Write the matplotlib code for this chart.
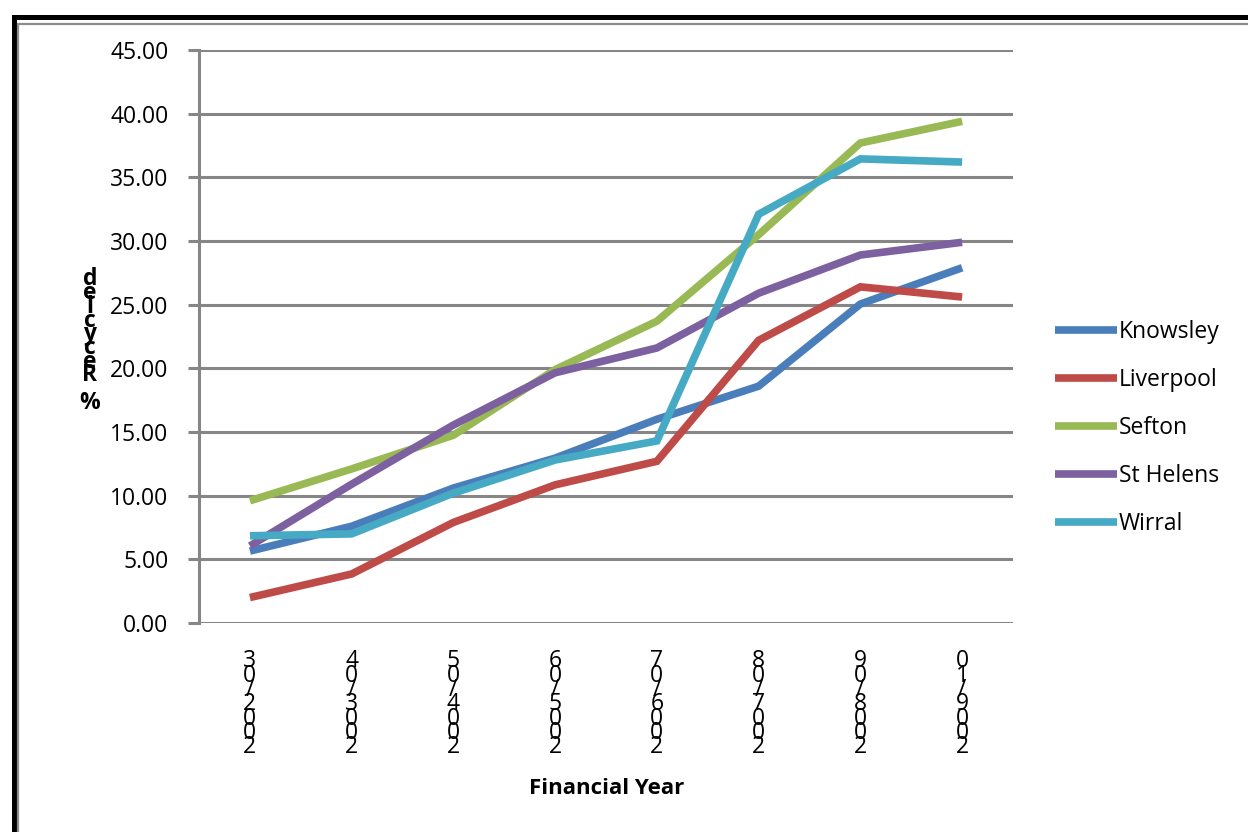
#! python3

# Recycling rates by district, Merseyside

import matplotlib
matplotlib.use('Agg')
import matplotlib.pyplot as plt
from matplotlib.patches import Rectangle
from matplotlib.ticker import FormatStrFormatter


# DATA

years = ['2002/03', '2003/04', '2004/05', '2005/06',
	'2006/07', '2007/08', '2008/09', '2009/10']

knowsley = [5.65, 7.6, 10.6, 12.95, 16.0, 18.6, 25.05, 27.9]
liverpool = [2.0, 3.85, 7.9, 10.85, 12.7, 22.2, 26.4, 25.6]
sefton = [9.6, 12.1, 14.75, 19.9, 23.7, 30.5, 37.7, 39.4]
st_helens = [6.05, 10.9, 15.55, 19.65, 21.6, 25.9, 28.9, 29.9]
wirral = [6.85, 7.0, 10.2, 12.8, 14.3, 32.1, 36.45, 36.2]

series = [
	('Knowsley', knowsley, '#4A7EBB'),
	('Liverpool', liverpool, '#BE4B48'),
	('Sefton', sefton, '#98B954'),
	('St Helens', st_helens, '#7D60A0'),
	('Wirral', wirral, '#46AAC5'),
]

GRID = '#868686'


def stacked(text):
	# Excel style stacked text, read from the bottom up
	return '\n'.join(reversed(text))


def main():
	plt.rcParams['font.family'] = ['Open Sans', 'DejaVu Sans']

	fig = plt.figure(figsize=(12.48, 8.32), dpi=100)
	ax = fig.add_axes([0.1595, 0.2512, 0.6522, 0.6887])

	x = list(range(len(years)))
	for name, values, color in series:
		ax.plot(x, values, color=color, linewidth=5.5, label=name,
			solid_joinstyle='miter', solid_capstyle='butt')

	ax.set_xlim(-0.5, len(years) - 0.5)
	ax.set_ylim(0, 45)
	ax.set_yticks(range(0, 46, 5))
	ax.yaxis.set_major_formatter(FormatStrFormatter('%.2f'))
	ax.yaxis.grid(True, color=GRID, linewidth=2.2)
	ax.set_axisbelow(True)

	ax.tick_params(axis='y', length=8, width=2.2, color=GRID,
		pad=14, labelsize=16.5)
	ax.tick_params(axis='x', length=0, pad=19)

	ax.set_xticks(x)
	ax.set_xticklabels([stacked(y) for y in years], fontsize=16.5,
		linespacing=0.46, va='top')

	for side in ['top', 'right', 'bottom']:
		ax.spines[side].set_visible(False)
	ax.spines['left'].set_color(GRID)
	ax.spines['left'].set_linewidth(2.2)

	# Axis titles
	fig.text(0.486, 0.052, 'Financial Year', fontsize=16,
		fontweight='bold', ha='center', va='center')
	fig.text(0.072, 0.59, stacked('% Recycled'), fontsize=16.5,
		fontweight='bold', ha='center', va='center', linespacing=0.43)

	leg = ax.legend(loc='center left', bbox_to_anchor=(1.026, 0.34),
		frameon=False, fontsize=16.5, handlelength=2.7,
		handletextpad=0.1, labelspacing=1.05)
	for line in leg.get_lines():
		line.set_linewidth(5.5)

	# Chart frame, running off the right and bottom edges
	fig.patches.append(Rectangle((0.011, -0.05), 1.05, 1.03,
		transform=fig.transFigure, fill=False,
		edgecolor='black', linewidth=3.6))
	fig.patches.append(Rectangle((0.0148, -0.05), 1.05, 1.021,
		transform=fig.transFigure, fill=False,
		edgecolor='#8C8C8C', linewidth=1.6))

	fig.savefig('out.png', dpi=100)


if __name__ == '__main__':
	main()
